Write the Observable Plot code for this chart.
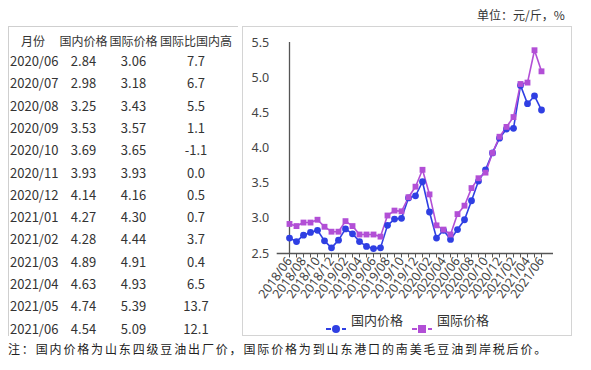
<!DOCTYPE html>
<html><head><meta charset="utf-8">
<script src="https://cdn.jsdelivr.net/npm/d3@7"></script>
<script src="https://cdn.jsdelivr.net/npm/@observablehq/plot@0.6"></script>
<style>
body{margin:0;background:#fff;font-family:"Noto Sans CJK SC","Noto Sans",sans-serif;color:#333;}
#wrap{position:relative;width:591px;height:370px;overflow:hidden;}
.abs{position:absolute;white-space:nowrap;}
</style></head>
<body><div id="wrap"></div>
<script>
// ---- data ----
const months = ["2018/06","2018/07","2018/08","2018/09","2018/10","2018/11","2018/12","2019/01","2019/02","2019/03","2019/04","2019/05","2019/06","2019/07","2019/08","2019/09","2019/10","2019/11","2019/12","2020/01","2020/02","2020/03","2020/04","2020/05","2020/06","2020/07","2020/08","2020/09","2020/10","2020/11","2020/12","2021/01","2021/02","2021/03","2021/04","2021/05","2021/06"];
const domestic = [2.72,2.67,2.76,2.80,2.83,2.68,2.58,2.69,2.85,2.78,2.67,2.60,2.57,2.58,2.90,2.99,3.00,3.29,3.32,3.52,3.09,2.72,2.83,2.70,2.84,2.98,3.25,3.53,3.69,3.93,4.14,4.27,4.28,4.89,4.63,4.74,4.54];
const international = [2.92,2.89,2.94,2.94,2.98,2.88,2.81,2.81,2.96,2.89,2.77,2.77,2.77,2.74,3.04,3.11,3.10,3.30,3.45,3.69,3.34,2.90,2.84,2.77,3.06,3.18,3.43,3.57,3.65,3.93,4.16,4.30,4.44,4.91,4.93,5.39,5.09];
const tableMonths = ["2020/06","2020/07","2020/08","2020/09","2020/10","2020/11","2020/12","2021/01","2021/02","2021/03","2021/04","2021/05","2021/06"];
const tableDomestic = ["2.84","2.98","3.25","3.53","3.69","3.93","4.14","4.27","4.28","4.89","4.63","4.74","4.54"];
const tableIntl = ["3.06","3.18","3.43","3.57","3.65","3.93","4.16","4.30","4.44","4.91","4.93","5.39","5.09"];
const tableDiff = ["7.7","6.7","5.5","1.1","-1.1","0.0","0.5","0.7","3.7","0.4","6.5","13.7","12.1"];
const tableHeader = ["月份","国内价格","国际价格","国际比国内高"];
const seriesNames = ["国内价格","国际价格"];
const yTicks = [2.5,3.0,3.5,4.0,4.5,5.0,5.5];
const unitText = "单位：元/斤，%";
const noteText = "注：国内价格为山东四级豆油出厂价，国际价格为到山东港口的南美毛豆油到岸税后价。";

const BLUE = "#2f3fe3", PURPLE = "#b24fd6";
const wrap = document.getElementById("wrap");
function add(html, style){const d=document.createElement("div");d.className="abs";d.innerHTML=html;Object.assign(d.style,style);wrap.appendChild(d);return d;}

// ---- table ----
add("", {left:"8px",top:"26px",width:"229px",height:"309px",borderLeft:"1px solid #cfcfcf",borderTop:"1px solid #cfcfcf"});
const colX = [33,83.5,133.5,196];
tableHeader.forEach((h,i)=>{
  add(h,{left:(colX[i]-40)+"px",width:"80px",textAlign:"center",top:"33px",fontSize:"12px",lineHeight:"16px",color:"#333"});
});
tableMonths.forEach((m,r)=>{
  const y = 61 + r*22.3;
  const vals=[m,tableDomestic[r],tableIntl[r],tableDiff[r]];
  vals.forEach((v,i)=>{
    const st={top:(y-9)+"px",fontSize:"13px",lineHeight:"18px",color:"#333"};
    if(i===0){st.left="10px";} else {st.left=(colX[i]-40)+"px";st.width="80px";st.textAlign="center";}
    add(v,st);
  });
});

// ---- chart box ----
add("", {left:"242px",top:"26px",width:"330px",height:"310px",border:"1px solid #d4d4d4",boxSizing:"border-box"});
add(unitText,{left:"477px",top:"7px",fontSize:"12px",lineHeight:"16px",color:"#333"});

const data = [];
months.forEach((m,i)=>{data.push({m,v:domestic[i],s:seriesNames[0]});});
months.forEach((m,i)=>{data.push({m,v:international[i],s:seriesNames[1]});});
const evenMonths = months.filter((d,i)=>i%2===0);

const chart = Plot.plot({
  width:330, height:287,
  marginLeft:34.7, marginRight:19, marginTop:16, marginBottom:60,
  style:{fontFamily:"'Noto Sans','DejaVu Sans',sans-serif",fontSize:"11px",color:"#444",background:"transparent",overflow:"visible"},
  x:{type:"point",domain:months,padding:0,label:null},
  y:{domain:[2.5,5.5],label:null},
  color:{domain:seriesNames,range:[BLUE,PURPLE]},
  marks:[
    Plot.axisY({ticks:yTicks,tickFormat:d3.format(".1f"),tickSize:0,tickPadding:8,fontSize:12.5,fill:"#444"}),
    Plot.axisX({ticks:months,tickSize:4.5,tickFormat:()=>"",stroke:"#555"}),
    Plot.axisX({ticks:evenMonths,tickSize:0,tickRotate:-54,tickPadding:5,fontSize:12.5,fill:"#444"}),
    Plot.ruleY([2.5],{stroke:"#555",strokeWidth:1.3}),
    Plot.ruleX([months[0]],{y1:2.5,y2:5.5,stroke:"#555",strokeWidth:1.3}),
    Plot.line(data,{x:"m",y:"v",z:"s",stroke:"s",strokeWidth:1.6}),
    Plot.dot(data.filter(d=>d.s===seriesNames[0]),{x:"m",y:"v",fill:BLUE,r:3.4,symbol:"circle"}),
    Plot.dot(data.filter(d=>d.s===seriesNames[1]),{x:"m",y:"v",fill:PURPLE,r:3.3,symbol:"square"})
  ]
});
const holder = add("",{left:"242px",top:"26px"});
holder.appendChild(chart);

// ---- legend ----
add(`<svg width="22" height="10"><line x1="1" y1="5" x2="21" y2="5" stroke="${BLUE}" stroke-width="2" stroke-dasharray="5,3"/><circle cx="11" cy="5" r="4" fill="${BLUE}"/></svg>`,{left:"325px",top:"315px"});
add(seriesNames[0],{left:"351px",top:"311px",fontSize:"13px",lineHeight:"18px",color:"#333"});
add(`<svg width="22" height="10"><line x1="1" y1="5" x2="21" y2="5" stroke="${PURPLE}" stroke-width="2" stroke-dasharray="5,3"/><rect x="7" y="1" width="8" height="8" fill="${PURPLE}"/></svg>`,{left:"411px",top:"315px"});
add(seriesNames[1],{left:"437px",top:"311px",fontSize:"13px",lineHeight:"18px",color:"#333"});

// ---- note ----
add(noteText,{left:"8px",top:"341px",fontSize:"12px",lineHeight:"16px",letterSpacing:"1.85px",color:"#222"});
</script></body></html>
